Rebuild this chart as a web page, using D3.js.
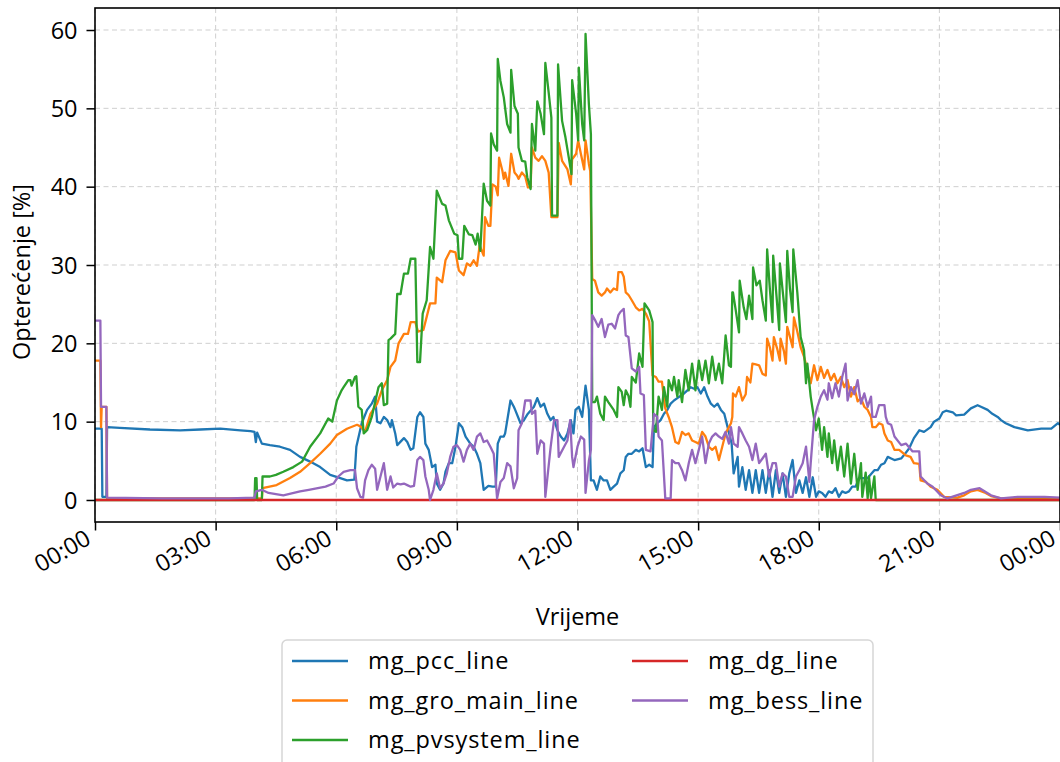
<!DOCTYPE html>
<html>
<head>
<meta charset="utf-8">
<script src="https://cdn.jsdelivr.net/npm/d3@7"></script>
<style>
  html, body { margin: 0; padding: 0; background: #fff; }
  svg text { font-family: "Open Sans", "Noto Sans", sans-serif; fill: #000; }
</style>
</head>
<body>
<svg id="chart" width="1060" height="762"></svg>
<script>
// Line loading over one day, sampled as [minute of day, loading %]
const pccLine = [[0,9.1],[10,9.1],[11,0.4],[17,0.4],[18,9.3],[37,9.2],[82,9.0],[127,8.9],[157,9.0],[187,9.1],[217,8.9],[232,8.8],[238,8.7],[240,7.4],[242,8.6],[249,7.2],[261,7.0],[276,6.8],[291,6.4],[306,5.5],[321,4.9],[336,4.2],[351,3.2],[366,2.8],[376,2.5],[387,2.6],[390,6.8],[398,9.8],[406,11.5],[413,12.3],[418,13.2],[421,10.0],[426,9.8],[431,10.6],[436,10.2],[441,9.3],[443,10.2],[448,8.5],[451,7.0],[461,7.9],[466,7.4],[471,6.4],[475,6.6],[481,10.6],[485,11.2],[490,10.6],[493,7.2],[498,6.4],[503,4.2],[508,4.5],[510,2.1],[515,1.3],[520,2.1],[523,3.6],[528,4.7],[533,4.7],[538,6.8],[543,9.8],[548,9.3],[553,8.1],[560,7.2],[565,6.8],[570,5.9],[575,4.7],[580,1.3],[587,1.8],[593,1.7],[598,1.7],[601,7.2],[605,8.1],[610,8.1],[612,8.5],[620,12.7],[625,11.9],[627,11.5],[635,9.8],[640,10.2],[645,10.9],[655,11.9],[660,13.0],[665,11.9],[670,12.3],[675,11.0],[680,10.2],[684,10.6],[690,8.9],[695,8.1],[700,7.6],[705,8.5],[710,10.2],[714,8.5],[717,11.5],[722,11.9],[727,10.6],[732,14.6],[737,11.5],[740,2.5],[744,2.5],[749,1.3],[754,3.0],[759,2.5],[764,2.5],[769,1.3],[774,1.7],[779,2.1],[784,3.4],[789,3.8],[792,5.5],[796,5.9],[801,5.9],[807,6.4],[812,6.2],[817,6.6],[822,4.2],[827,4.5],[832,4.2],[834,9.3],[839,9.8],[844,10.2],[849,11.0],[854,11.5],[859,12.3],[864,12.7],[869,13.0],[879,13.6],[884,14.0],[889,14.4],[894,14.2],[899,14.4],[904,13.6],[909,14.4],[914,13.2],[919,12.3],[924,11.9],[929,12.3],[934,11.5],[939,11.0],[944,9.3],[950,7.2],[953,3.4],[959,5.5],[961,1.7],[966,4.2],[971,1.3],[976,3.8],[981,0.9],[986,3.8],[991,0.9],[996,3.8],[1001,0.9],[1006,3.8],[1011,0.4],[1016,3.8],[1021,0.9],[1026,3.4],[1031,0.4],[1036,3.4],[1041,5.1],[1046,0.9],[1051,2.5],[1056,0.9],[1061,2.9],[1066,0.4],[1071,2.9],[1076,0.4],[1080,1.1],[1085,0.9],[1090,0.4],[1095,1.1],[1100,0.9],[1105,1.5],[1110,0.4],[1115,1.1],[1120,0.9],[1125,1.1],[1130,1.7],[1135,1.7],[1140,2.8],[1153,2.8],[1163,3.8],[1168,3.8],[1173,4.5],[1178,4.7],[1183,5.5],[1188,5.3],[1193,5.1],[1203,5.3],[1207,5.7],[1215,6.6],[1222,7.9],[1230,8.9],[1237,8.7],[1247,9.3],[1252,10.0],[1260,10.4],[1265,11.2],[1270,11.4],[1280,11.2],[1285,10.8],[1297,10.9],[1307,11.7],[1317,12.1],[1322,11.9],[1332,11.5],[1339,11.0],[1347,10.6],[1352,10.2],[1359,9.8],[1372,9.3],[1392,8.9],[1412,9.1],[1427,9.1],[1437,9.8],[1440,9.6]];

const groMainLine = [[0,17.8],[8,17.8],[9,9.3],[10,11.9],[17,11.9],[18,0.2],[120,0.2],[238,0.2],[240,0.8],[242,0.2],[249,0.2],[250,1.5],[271,1.9],[291,2.8],[306,3.6],[321,4.7],[336,5.9],[351,7.2],[361,8.3],[376,9.1],[391,9.6],[396,9.4],[403,8.7],[411,11.0],[421,12.3],[428,14.0],[436,15.3],[441,17.0],[448,17.8],[453,20.0],[461,21.2],[467,21.2],[471,22.7],[478,22.7],[482,21.5],[490,21.7],[500,25.1],[508,25.1],[510,28.4],[518,27.8],[523,30.6],[530,31.8],[538,31.6],[543,29.3],[550,28.7],[555,30.2],[560,29.9],[565,30.6],[570,29.9],[574,32.5],[580,31.2],[582,36.1],[587,35.0],[590,35.0],[593,40.3],[598,40.0],[601,38.9],[603,43.7],[608,42.0],[610,41.0],[612,41.8],[617,40.1],[621,44.2],[626,41.8],[630,41.4],[632,41.0],[637,41.8],[642,41.3],[646,39.9],[650,39.9],[652,45.0],[657,43.7],[662,43.3],[667,43.9],[672,43.3],[677,41.8],[681,36.1],[690,36.1],[692,45.6],[697,43.3],[705,42.2],[710,40.3],[712,43.5],[718,44.2],[721,45.9],[725,44.2],[730,42.2],[732,45.9],[737,42.9],[739,42.0],[742,28.2],[746,28.0],[751,26.5],[756,26.1],[761,26.5],[764,27.0],[769,26.5],[774,27.0],[779,26.8],[781,29.1],[786,29.1],[789,28.5],[792,26.5],[796,26.2],[801,25.5],[807,24.6],[812,24.2],[817,24.4],[822,23.8],[827,22.8],[832,15.9],[837,15.7],[841,15.1],[846,15.1],[851,11.7],[856,10.6],[861,9.3],[866,7.4],[871,7.2],[876,8.7],[881,8.3],[886,8.5],[891,7.6],[896,7.4],[901,7.2],[906,8.7],[911,8.1],[916,6.8],[921,6.4],[926,6.8],[931,5.1],[936,6.8],[941,8.5],[946,9.3],[949,9.8],[951,10.6],[952,13.6],[956,13.2],[961,14.4],[966,12.7],[971,13.5],[973,15.7],[978,15.0],[981,17.4],[986,17.3],[991,17.2],[996,16.1],[1001,15.9],[1003,20.6],[1007,19.5],[1011,17.8],[1013,20.8],[1018,19.3],[1022,17.8],[1023,20.6],[1028,19.0],[1031,17.4],[1033,22.1],[1038,20.5],[1041,19.5],[1043,23.3],[1048,21.5],[1053,19.5],[1058,18.3],[1063,16.6],[1068,14.9],[1073,17.2],[1078,15.3],[1083,17.0],[1088,15.6],[1093,16.6],[1098,15.3],[1103,16.1],[1108,14.9],[1113,15.7],[1118,14.4],[1123,15.3],[1128,13.2],[1133,14.4],[1138,12.6],[1143,13.0],[1148,11.9],[1153,11.5],[1158,10.6],[1160,9.3],[1165,9.3],[1170,9.8],[1175,9.6],[1178,8.5],[1183,7.6],[1188,7.4],[1193,6.4],[1200,6.4],[1210,5.7],[1217,5.5],[1222,4.7],[1230,4.6],[1232,2.5],[1240,2.3],[1247,1.7],[1257,1.3],[1267,0.4],[1287,0.3],[1297,0.6],[1307,1.1],[1317,1.3],[1329,0.9],[1337,0.5],[1352,0.2],[1440,0.2]];

const pvsystemLine = [[0,0],[238,0],[239,2.8],[241,2.8],[242,0],[249,0],[250,3.0],[261,3.0],[270,3.2],[281,3.6],[296,4.2],[309,4.9],[321,6.8],[336,8.5],[348,10.4],[354,10.0],[361,12.7],[368,14.0],[371,14.4],[378,15.3],[381,15.3],[383,14.6],[388,15.7],[390,15.8],[393,11.9],[398,11.5],[401,8.5],[406,8.9],[413,10.6],[423,14.4],[428,14.9],[431,12.1],[436,12.3],[438,20.4],[441,20.6],[448,21.2],[451,26.3],[456,26.3],[461,28.9],[467,28.9],[471,30.8],[478,30.8],[481,17.6],[485,17.6],[489,23.8],[495,25.5],[500,32.3],[505,30.8],[510,39.5],[518,37.8],[523,37.6],[528,35.7],[536,34.0],[541,33.8],[543,30.8],[548,30.8],[551,35.0],[558,33.9],[563,33.8],[568,32.6],[571,34.0],[575,31.8],[580,40.4],[585,38.2],[590,37.6],[591,46.8],[595,45.4],[600,44.6],[601,56.3],[605,53.5],[610,51.4],[615,48.0],[620,46.9],[621,54.9],[626,50.3],[631,49.3],[632,45.0],[637,43.3],[642,43.2],[645,41.2],[650,39.7],[652,48.0],[657,44.6],[660,50.9],[665,49.3],[670,46.7],[672,55.8],[677,52.0],[681,48.8],[682,36.3],[690,36.3],[691,55.6],[697,48.4],[702,46.3],[707,43.7],[711,41.6],[712,53.6],[718,49.3],[721,45.9],[722,55.2],[727,48.0],[730,45.9],[732,59.5],[737,50.5],[740,46.7],[742,12.5],[746,12.5],[749,13.2],[754,11.0],[759,10.2],[761,13.2],[766,12.5],[774,11.5],[779,10.6],[781,14.4],[786,13.8],[789,12.1],[792,14.0],[796,13.3],[799,11.9],[801,15.7],[807,15.0],[812,18.7],[817,17.0],[820,25.1],[827,24.2],[832,22.7],[833,8.9],[837,8.7],[841,13.2],[846,11.5],[849,14.4],[854,11.9],[856,15.3],[861,14.0],[864,15.7],[869,13.2],[871,15.3],[876,12.5],[881,16.6],[886,14.0],[891,17.4],[896,14.0],[901,17.8],[906,15.3],[911,17.8],[916,14.9],[921,18.3],[926,15.3],[931,17.4],[936,14.9],[941,21.0],[946,17.2],[949,17.0],[951,26.5],[952,26.5],[956,24.3],[961,21.4],[962,28.0],[968,24.6],[972,23.1],[976,26.1],[981,23.1],[982,29.7],[987,27.4],[992,28.0],[996,25.5],[1001,22.9],[1003,32.0],[1007,27.0],[1011,22.7],[1012,31.2],[1017,26.0],[1021,21.7],[1022,30.2],[1027,26.0],[1031,22.7],[1033,31.8],[1037,27.0],[1041,24.0],[1042,32.0],[1048,26.5],[1053,20.8],[1058,19.1],[1061,14.9],[1063,17.4],[1068,13.2],[1071,11.5],[1076,8.9],[1080,10.4],[1085,6.4],[1088,9.3],[1093,5.5],[1095,8.5],[1100,4.7],[1103,7.6],[1108,3.8],[1113,6.8],[1118,3.0],[1123,7.2],[1128,2.1],[1133,5.9],[1138,1.3],[1143,4.7],[1145,0.4],[1150,3.5],[1153,0.2],[1155,3.0],[1158,0.2],[1163,3.0],[1165,0],[1440,0]];

const dgLine = [[0,0],[1440,0]];

const bessLine = [[0,22.9],[8,22.9],[9,11.9],[17,11.9],[18,0.3],[100,0.2],[200,0.2],[238,0.3],[240,1.1],[249,1.3],[259,0.9],[281,0.6],[306,1.1],[319,1.3],[344,1.7],[356,2.1],[363,3.0],[371,3.6],[381,3.8],[388,3.8],[391,1.5],[396,0.4],[400,0.3],[403,2.5],[408,3.8],[413,4.5],[418,4.0],[421,1.3],[426,3.0],[431,4.7],[436,1.3],[441,3.0],[445,1.6],[451,2.1],[456,2.0],[461,2.1],[466,1.9],[471,1.7],[476,1.8],[481,5.1],[485,5.5],[490,5.1],[493,3.0],[498,1.3],[500,0.0],[505,1.3],[510,3.4],[515,1.5],[520,2.1],[525,3.4],[530,5.5],[535,6.8],[540,7.0],[545,6.4],[550,4.9],[555,6.4],[560,7.2],[565,6.4],[570,8.1],[575,8.5],[580,7.4],[585,7.6],[590,6.8],[595,5.9],[600,0.2],[605,2.3],[610,2.8],[615,4.7],[620,4.3],[625,1.5],[630,2.8],[632,8.9],[637,9.8],[642,12.7],[650,12.7],[652,11.0],[657,11.4],[660,5.9],[665,7.6],[670,7.2],[672,0.4],[675,2.8],[680,6.8],[685,10.2],[690,10.2],[692,5.5],[700,6.8],[705,7.6],[709,10.2],[712,5.5],[714,4.2],[720,6.8],[725,8.1],[730,7.7],[732,0.9],[737,5.0],[740,6.4],[742,23.6],[746,23.0],[751,22.1],[756,23.1],[761,20.8],[766,22.4],[771,22.5],[776,21.9],[781,23.6],[784,24.0],[789,24.4],[792,21.0],[796,20.8],[801,16.8],[807,16.4],[812,17.0],[814,13.6],[819,13.4],[822,6.4],[829,6.2],[834,11.0],[839,10.6],[841,8.1],[846,7.6],[851,0.2],[859,0.2],[861,5.1],[866,4.7],[871,4.7],[876,3.8],[881,2.5],[886,4.7],[891,6.4],[896,4.7],[901,6.4],[906,8.1],[911,4.7],[916,7.2],[921,8.1],[926,8.5],[931,8.1],[936,7.8],[941,8.7],[946,7.2],[949,9.3],[953,7.2],[959,6.8],[961,9.3],[966,8.5],[971,7.6],[976,6.8],[981,5.1],[986,7.2],[991,4.7],[996,5.3],[1001,5.9],[1006,3.0],[1011,4.7],[1016,4.7],[1021,1.7],[1026,3.4],[1031,3.0],[1036,0.4],[1041,0.4],[1046,3.0],[1051,3.8],[1056,4.7],[1061,6.8],[1066,2.3],[1068,4.7],[1073,10.2],[1078,11.9],[1083,13.2],[1088,14.0],[1093,12.8],[1095,14.9],[1100,13.0],[1105,14.9],[1110,13.2],[1115,15.7],[1120,17.4],[1123,12.7],[1128,14.4],[1133,13.5],[1138,15.3],[1143,12.3],[1148,13.6],[1153,11.9],[1158,13.2],[1160,10.6],[1165,10.6],[1170,12.1],[1178,12.1],[1180,10.6],[1183,9.8],[1188,9.6],[1193,8.1],[1203,7.0],[1210,7.2],[1220,6.2],[1230,6.2],[1232,3.0],[1242,2.1],[1250,1.7],[1262,0.6],[1272,0.2],[1297,0.9],[1307,1.3],[1320,1.5],[1337,0.6],[1352,0.2],[1377,0.4],[1417,0.4],[1440,0.3]];

const seriesNames = ["mg_pcc_line", "mg_gro_main_line", "mg_pvsystem_line", "mg_dg_line", "mg_bess_line"];
const seriesData = [pccLine, groMainLine, pvsystemLine, dgLine, bessLine];
const seriesColors = ["#1f77b4", "#ff7f0e", "#2ca02c", "#d62728", "#9467bd"];

const xTickMinutes = [0, 180, 360, 540, 720, 900, 1080, 1260, 1440];
const xTickLabels = ["00:00", "03:00", "06:00", "09:00", "12:00", "15:00", "18:00", "21:00", "00:00"];
const yTicks = [0, 10, 20, 30, 40, 50, 60];

const xTitle = "Vrijeme";
const yTitle = "Opterećenje [%]";

// Layout
const plot = { left: 95, right: 1060, top: 8, bottom: 522 };
const svg = d3.select("#chart");
const FONT = 23.5;

const x = d3.scaleLinear().domain([0, 1440]).range([plot.left, plot.right]);
const y = d3.scaleLinear().domain([-2.81, 62.81]).range([plot.bottom, plot.top]);

// Grid
const grid = svg.append("g");
grid.selectAll("line.gx").data(xTickMinutes).join("line")
  .attr("x1", d => x(d)).attr("x2", d => x(d))
  .attr("y1", plot.top).attr("y2", plot.bottom)
  .attr("stroke", "#cfcfcf").attr("stroke-width", 1).attr("stroke-dasharray", "5,3.5");
grid.selectAll("line.gy").data(yTicks).join("line")
  .attr("x1", plot.left).attr("x2", plot.right)
  .attr("y1", d => y(d)).attr("y2", d => y(d))
  .attr("stroke", "#cfcfcf").attr("stroke-width", 1).attr("stroke-dasharray", "5,3.5");

// Series lines
svg.append("clipPath").attr("id", "plotclip").append("rect")
  .attr("x", plot.left).attr("y", plot.top)
  .attr("width", plot.right - plot.left).attr("height", plot.bottom - plot.top);

const line = d3.line().x(d => x(d[0])).y(d => y(d[1]));
svg.append("g").attr("clip-path", "url(#plotclip)")
  .selectAll("path").data(seriesData).join("path")
  .attr("d", d => line(d))
  .attr("fill", "none")
  .attr("stroke", (d, i) => seriesColors[i])
  .attr("stroke-width", 2.3)
  .attr("stroke-linejoin", "round")
  .attr("stroke-linecap", "butt");

// Axes
const xAxis = d3.axisBottom(x).tickValues(xTickMinutes)
  .tickFormat((d, i) => xTickLabels[i]).tickSize(8.5).tickSizeOuter(0);
const gx = svg.append("g").attr("transform", `translate(0,${plot.bottom})`).call(xAxis);
gx.select(".domain").remove();
gx.selectAll(".tick line").attr("stroke", "#000").attr("stroke-width", 1.5);
gx.selectAll(".tick text")
  .attr("font-size", FONT)
  .attr("text-anchor", "end")
  .attr("y", 0).attr("dy", 0)
  .attr("transform", "translate(-3,21) rotate(-30)");

const yAxis = d3.axisLeft(y).tickValues(yTicks).tickSize(8.5).tickPadding(9).tickSizeOuter(0);
const gy = svg.append("g").attr("transform", `translate(${plot.left},0)`).call(yAxis);
gy.select(".domain").remove();
gy.selectAll(".tick line").attr("stroke", "#000").attr("stroke-width", 1.5);
gy.selectAll(".tick text").attr("font-size", FONT).attr("dy", "0.35em");

// Frame
svg.append("rect")
  .attr("x", plot.left).attr("y", plot.top)
  .attr("width", plot.right - plot.left).attr("height", plot.bottom - plot.top)
  .attr("fill", "none").attr("stroke", "#000").attr("stroke-width", 1.6);

// Axis titles
svg.append("text").attr("x", (plot.left + plot.right) / 2).attr("y", 625)
  .attr("text-anchor", "middle").attr("font-size", FONT).text(xTitle);
svg.append("text")
  .attr("transform", `translate(30,272) rotate(-90)`)
  .attr("text-anchor", "middle").attr("font-size", FONT).text(yTitle);

// Legend
const legend = svg.append("g");
legend.append("rect")
  .attr("x", 282).attr("y", 640).attr("width", 591).attr("height", 150)
  .attr("rx", 5).attr("fill", "#fff").attr("fill-opacity", 0.8)
  .attr("stroke", "#d6d6d6").attr("stroke-width", 1.5);
const legendItems = seriesNames.map((name, i) => ({
  name, color: seriesColors[i], col: i < 3 ? 0 : 1, row: i < 3 ? i : i - 3
}));
const colX = [292, 632];
const rowY = [661, 700.5, 740];
const li = legend.selectAll("g.item").data(legendItems).join("g")
  .attr("transform", d => `translate(${colX[d.col]},${rowY[d.row]})`);
li.append("line").attr("x1", 0).attr("x2", 56).attr("y1", 0).attr("y2", 0)
  .attr("stroke", d => d.color).attr("stroke-width", 2.3);
li.append("text").attr("x", 76).attr("y", 0).attr("dy", "0.35em")
  .attr("font-size", FONT).attr("letter-spacing", "0.9px").text(d => d.name);
</script>
</body>
</html>
